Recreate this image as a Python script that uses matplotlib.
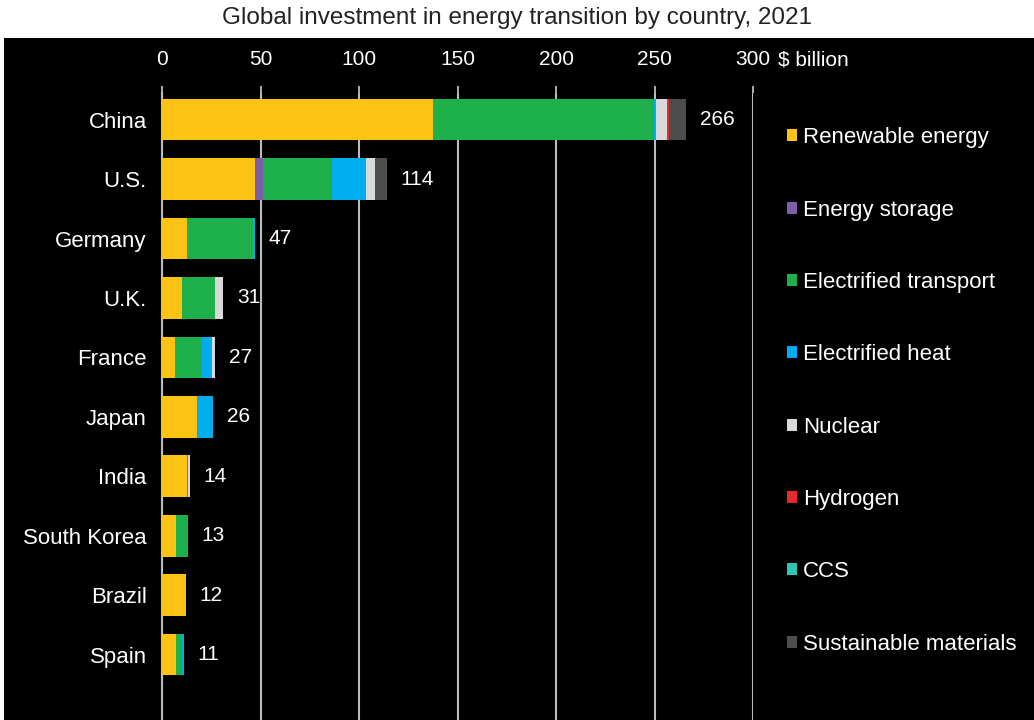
import matplotlib.pyplot as plt
from matplotlib.patches import Patch, Rectangle
import numpy as np

plt.rcParams['font.family'] = ['Liberation Sans', 'DejaVu Sans']

countries = ['China', 'U.S.', 'Germany', 'U.K.', 'France', 'Japan', 'India',
             'South Korea', 'Brazil', 'Spain']
totals = [266, 114, 47, 31, 27, 26, 14, 13, 12, 11]

# $ billion by sector
renewable = [137.5, 47.3, 12.5, 10, 6.5, 17.5, 12.5, 7, 12, 7]
storage = [0, 3.8, 0, 0, 0, 0, 0, 0, 0, 0]
transport = [112, 35, 33.5, 17, 14, 0.5, 0.8, 6, 0, 3]
heat = [1.4, 17.6, 1, 0, 5, 8, 0, 0, 0, 1]
nuclear = [5.4, 4.5, 0, 4, 1.5, 0, 0.7, 0, 0, 0]
hydrogen = [1.2, 0, 0, 0, 0, 0, 0, 0, 0, 0]
ccs = [0, 0, 0, 0, 0, 0, 0, 0, 0, 0]
materials = [8.5, 5.8, 0, 0, 0, 0, 0, 0, 0, 0]

sectors = ['Renewable energy', 'Energy storage', 'Electrified transport',
           'Electrified heat', 'Nuclear', 'Hydrogen', 'CCS', 'Sustainable materials']
colors = ['#FDC314', '#7B5EA7', '#1DB04B', '#00AEEF', '#D9D9D9', '#E8292A',
          '#2EC4B6', '#4D4D4D']
series = [renewable, storage, transport, heat, nuclear, hydrogen, ccs, materials]

fig = plt.figure(figsize=(10.34, 7.2), dpi=100, facecolor='white')
# black panel under the title
fig.patches.append(Rectangle((0.004, 0), 0.996, 0.947, transform=fig.transFigure,
                             facecolor='black', edgecolor='none', zorder=-1))
fig.text(0.5, 0.975, 'Global investment in energy transition by country, 2021',
         ha='center', va='center', fontsize=17.5, color='#222222')

ax = fig.add_axes([0.1567, 0.0, 0.5716, 0.871])
ax.set_zorder(2)
ax.set_facecolor('black')

y = np.arange(len(countries))
left = np.zeros(len(countries))
for vals, c in zip(series, colors):
    ax.barh(y, vals, left=left, height=0.7, color=c, zorder=3)
    left += np.array(vals)

for yi, tot, l in zip(y, totals, left):
    ax.annotate(str(tot), (l, yi), xytext=(10, 0), textcoords='offset points',
                va='center', ha='left', color='white', fontsize=15)

ax.set_xlim(0, 300)
ax.set_ylim(10.1, -0.45)
ax.set_xticks(np.arange(0, 301, 50))
ax.xaxis.tick_top()
ax.tick_params(axis='x', colors='#BBBBBB', labelcolor='white', labelsize=15,
               length=5, width=1.3, pad=12)
ax.set_yticks(y)
ax.set_yticklabels(countries)
ax.tick_params(axis='y', length=0, labelcolor='white', labelsize=16, pad=11)
ax.grid(axis='x', color='#BBBBBB', linewidth=1.5, zorder=1)
for s in ['top', 'right', 'bottom']:
    ax.spines[s].set_visible(False)
ax.spines['left'].set_color('#BBBBBB')
ax.spines['left'].set_linewidth(1.5)

fig.text(0.752, 1 - 60 / 720, '$ billion', color='white', fontsize=15,
         ha='left', va='center')

handles = [Patch(facecolor=c, edgecolor='none') for c in colors]
fig.legend(handles, sectors, loc='upper left', bbox_to_anchor=(0.742, 0.851),
           frameon=False, labelcolor='white', fontsize=16, handlelength=0.45,
           handleheight=0.45, handletextpad=0.25, labelspacing=2.31)

fig.savefig('out.png', dpi=100, facecolor=fig.get_facecolor())
